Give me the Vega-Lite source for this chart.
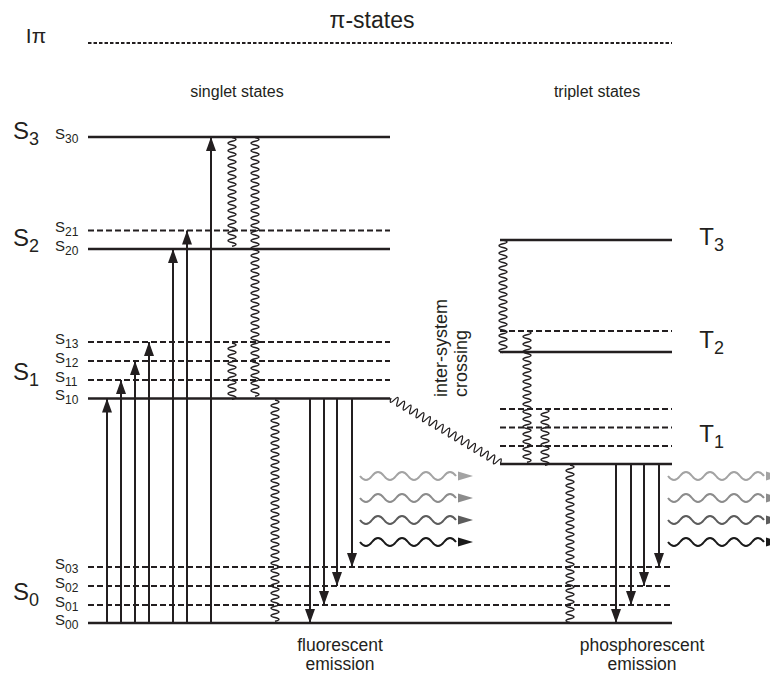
{
  "$schema": "https://vega.github.io/schema/vega-lite/v6.json",
  "width": 770,
  "height": 675,
  "autosize": {"type": "fit", "contains": "padding"},
  "padding": 0,
  "background": "white",
  "config": {"view": {"stroke": null}, "text": {"font": "Liberation Sans", "color": "#231f20"}},
  "resolve": {"scale": {"shape": "independent", "color": "independent"}},
  "datasets": {
    "levels": [
      {"level": "Ipi", "x": 88, "x2": 672, "E": 580, "style": "fine"},
      {"level": "S30", "x": 88, "x2": 390, "E": 486, "style": "solid"},
      {"level": "S21", "x": 88, "x2": 390, "E": 392.5, "style": "dashed"},
      {"level": "S20", "x": 88, "x2": 390, "E": 374, "style": "solid"},
      {"level": "S13", "x": 88, "x2": 390, "E": 281, "style": "dashed"},
      {"level": "S12", "x": 88, "x2": 390, "E": 262, "style": "dashed"},
      {"level": "S11", "x": 88, "x2": 390, "E": 243, "style": "dashed"},
      {"level": "S10", "x": 88, "x2": 390, "E": 224.5, "style": "solid"},
      {"level": "S03", "x": 88, "x2": 672, "E": 56, "style": "dashed"},
      {"level": "S02", "x": 88, "x2": 672, "E": 37, "style": "dashed"},
      {"level": "S01", "x": 88, "x2": 672, "E": 18, "style": "dashed"},
      {"level": "S00", "x": 88, "x2": 672, "E": 0, "style": "solid"},
      {"level": "T3", "x": 500, "x2": 672, "E": 383, "style": "solid"},
      {"level": "T21", "x": 500, "x2": 672, "E": 292, "style": "dashed"},
      {"level": "T2", "x": 500, "x2": 672, "E": 271, "style": "solid"},
      {"level": "T13", "x": 500, "x2": 672, "E": 214, "style": "dashed"},
      {"level": "T12", "x": 500, "x2": 672, "E": 195.5, "style": "dashed"},
      {"level": "T11", "x": 500, "x2": 672, "E": 177, "style": "dashed"},
      {"level": "T1", "x": 500, "x2": 672, "E": 159, "style": "solid"}
    ],
    "arrows": [
      {"x": 107, "E": 0, "E2": 224.5, "dir": "up"},
      {"x": 121, "E": 0, "E2": 243, "dir": "up"},
      {"x": 135, "E": 0, "E2": 262, "dir": "up"},
      {"x": 149, "E": 0, "E2": 281, "dir": "up"},
      {"x": 173, "E": 0, "E2": 374, "dir": "up"},
      {"x": 187, "E": 0, "E2": 392.5, "dir": "up"},
      {"x": 211, "E": 0, "E2": 486, "dir": "up"},
      {"x": 310, "E": 224.5, "E2": 0, "dir": "down"},
      {"x": 324, "E": 224.5, "E2": 18, "dir": "down"},
      {"x": 337, "E": 224.5, "E2": 37, "dir": "down"},
      {"x": 352, "E": 224.5, "E2": 56, "dir": "down"},
      {"x": 616, "E": 159, "E2": 0, "dir": "down"},
      {"x": 631, "E": 159, "E2": 18, "dir": "down"},
      {"x": 644, "E": 159, "E2": 37, "dir": "down"},
      {"x": 659, "E": 159, "E2": 56, "dir": "down"}
    ],
    "waves": [
      {"x": 232, "E": 485.5, "half": "29"},
      {"x": 255, "E": 485.5, "half": "69"},
      {"x": 232, "E": 280, "half": "15"},
      {"x": 275, "E": 223, "half": "59"},
      {"x": 503, "E": 383, "half": "30"},
      {"x": 527, "E": 292, "half": "35"},
      {"x": 545, "E": 214, "half": "15"},
      {"x": 570, "E": 158, "half": "42"}
    ],
    "emis": [
      {"x": 360, "x2": 473, "E": 147, "tone": "1"},
      {"x": 360, "x2": 473, "E": 125, "tone": "2"},
      {"x": 360, "x2": 473, "E": 103, "tone": "3"},
      {"x": 360, "x2": 473, "E": 81, "tone": "4"},
      {"x": 668, "x2": 781, "E": 147, "tone": "1"},
      {"x": 668, "x2": 781, "E": 125, "tone": "2"},
      {"x": 668, "x2": 781, "E": 103, "tone": "3"},
      {"x": 668, "x2": 781, "E": 81, "tone": "4"}
    ],
    "states": [
      {"x": 29, "E": 484, "main": "S", "sub": "3"},
      {"x": 29, "E": 377, "main": "S", "sub": "2"},
      {"x": 29, "E": 243, "main": "S", "sub": "1"},
      {"x": 29, "E": 23, "main": "S", "sub": "0"},
      {"x": 714, "E": 378, "main": "T", "sub": "3"},
      {"x": 714, "E": 275, "main": "T", "sub": "2"},
      {"x": 714, "E": 181, "main": "T", "sub": "1"}
    ],
    "sublabels": [
      {"x": 65, "E": 484.5, "main": "S", "sub": "30"},
      {"x": 65, "E": 391, "main": "S", "sub": "21"},
      {"x": 65, "E": 372.5, "main": "S", "sub": "20"},
      {"x": 65, "E": 279.5, "main": "S", "sub": "13"},
      {"x": 65, "E": 260.5, "main": "S", "sub": "12"},
      {"x": 65, "E": 241.5, "main": "S", "sub": "11"},
      {"x": 65, "E": 223, "main": "S", "sub": "10"},
      {"x": 65, "E": 54.5, "main": "S", "sub": "03"},
      {"x": 65, "E": 35.5, "main": "S", "sub": "02"},
      {"x": 65, "E": 16.5, "main": "S", "sub": "01"},
      {"x": 65, "E": -1.5, "main": "S", "sub": "00"}
    ],
    "texts": [
      {"kind": "title", "text": "π-states", "x": 372, "E": 595},
      {"kind": "ipi", "text": "Iπ", "x": 36, "E": 580},
      {"kind": "group", "text": "singlet states", "x": 237, "E": 526},
      {"kind": "group", "text": "triplet states", "x": 597, "E": 526},
      {"kind": "emission", "text": "fluorescent", "x": 340, "E": -28},
      {"kind": "emission", "text": "emission", "x": 340, "E": -47},
      {"kind": "emission", "text": "phosphorescent", "x": 642, "E": -28},
      {"kind": "emission", "text": "emission", "x": 642, "E": -47},
      {"kind": "isc", "text": "inter-system", "x": 447, "E": 226},
      {"kind": "isc", "text": "crossing", "x": 467, "E": 226}
    ]
  },
  "encoding": {
    "x": {"field": "x", "type": "quantitative", "scale": {"domain": [0, 770], "nice": false, "zero": false}, "axis": null},
    "y": {"field": "E", "type": "quantitative", "scale": {"domain": [-52, 623], "nice": false, "zero": false}, "axis": null}
  },
  "layer": [
    {
      "data": {"name": "levels"},
      "transform": [{"filter": "datum.style === 'solid'"}],
      "mark": {"type": "rule", "color": "#231f20", "strokeWidth": 2.3},
      "encoding": {"x2": {"field": "x2"}}
    },
    {
      "data": {"name": "levels"},
      "transform": [{"filter": "datum.style === 'dashed'"}],
      "mark": {"type": "rule", "color": "#231f20", "strokeWidth": 2, "strokeDash": [6, 3]},
      "encoding": {"x2": {"field": "x2"}}
    },
    {
      "data": {"name": "levels"},
      "transform": [{"filter": "datum.style === 'fine'"}],
      "mark": {"type": "rule", "color": "#231f20", "strokeWidth": 2, "strokeDash": [3.5, 2]},
      "encoding": {"x2": {"field": "x2"}}
    },
    {
      "data": {"name": "arrows"},
      "mark": {"type": "rule", "color": "#231f20", "strokeWidth": 2},
      "encoding": {"y2": {"field": "E2"}}
    },
    {
      "data": {"name": "arrows"},
      "mark": {"type": "point", "filled": true, "size": 4, "opacity": 1, "color": "#231f20", "strokeWidth": 0},
      "encoding": {
        "y": {"field": "E2", "type": "quantitative", "scale": {"domain": [-52, 623], "nice": false, "zero": false}, "axis": null},
        "shape": {"field": "dir", "type": "nominal", "scale": {"domain": ["up", "down"], "range": ["M0,0L-5,14L5,14Z", "M0,0L-5,-14L5,-14Z"]}, "legend": null}
      }
    },
    {
      "data": {"name": "waves"},
      "mark": {"type": "point", "filled": false, "size": 4, "opacity": 1, "color": "#231f20", "strokeWidth": 1.3},
      "encoding": {
        "shape": {"field": "half", "type": "nominal", "legend": null, "scale": {
          "domain": ["15", "29", "30", "35", "42", "59", "69"],
          "range": [
            "M0,0q8,1.875 0,3.75 t0,3.75t0,3.75t0,3.75t0,3.75t0,3.75t0,3.75t0,3.75t0,3.75t0,3.75t0,3.75 t0,3.75t0,3.75t0,3.75t0,3.75",
            "M0,0q8,1.875 0,3.75 t0,3.75t0,3.75t0,3.75t0,3.75t0,3.75t0,3.75t0,3.75t0,3.75t0,3.75t0,3.75 t0,3.75t0,3.75t0,3.75t0,3.75t0,3.75t0,3.75t0,3.75t0,3.75t0,3.75t0,3.75 t0,3.75t0,3.75t0,3.75t0,3.75t0,3.75t0,3.75t0,3.75t0,3.75",
            "M0,0q8,1.875 0,3.75 t0,3.75t0,3.75t0,3.75t0,3.75t0,3.75t0,3.75t0,3.75t0,3.75t0,3.75t0,3.75 t0,3.75t0,3.75t0,3.75t0,3.75t0,3.75t0,3.75t0,3.75t0,3.75t0,3.75t0,3.75 t0,3.75t0,3.75t0,3.75t0,3.75t0,3.75t0,3.75t0,3.75t0,3.75t0,3.75",
            "M0,0q8,1.875 0,3.75 t0,3.75t0,3.75t0,3.75t0,3.75t0,3.75t0,3.75t0,3.75t0,3.75t0,3.75t0,3.75 t0,3.75t0,3.75t0,3.75t0,3.75t0,3.75t0,3.75t0,3.75t0,3.75t0,3.75t0,3.75 t0,3.75t0,3.75t0,3.75t0,3.75t0,3.75t0,3.75t0,3.75t0,3.75t0,3.75t0,3.75 t0,3.75t0,3.75t0,3.75t0,3.75",
            "M0,0q8,1.875 0,3.75 t0,3.75t0,3.75t0,3.75t0,3.75t0,3.75t0,3.75t0,3.75t0,3.75t0,3.75t0,3.75 t0,3.75t0,3.75t0,3.75t0,3.75t0,3.75t0,3.75t0,3.75t0,3.75t0,3.75t0,3.75 t0,3.75t0,3.75t0,3.75t0,3.75t0,3.75t0,3.75t0,3.75t0,3.75t0,3.75t0,3.75 t0,3.75t0,3.75t0,3.75t0,3.75t0,3.75t0,3.75t0,3.75t0,3.75t0,3.75t0,3.75 t0,3.75",
            "M0,0q8,1.875 0,3.75 t0,3.75t0,3.75t0,3.75t0,3.75t0,3.75t0,3.75t0,3.75t0,3.75t0,3.75t0,3.75 t0,3.75t0,3.75t0,3.75t0,3.75t0,3.75t0,3.75t0,3.75t0,3.75t0,3.75t0,3.75 t0,3.75t0,3.75t0,3.75t0,3.75t0,3.75t0,3.75t0,3.75t0,3.75t0,3.75t0,3.75 t0,3.75t0,3.75t0,3.75t0,3.75t0,3.75t0,3.75t0,3.75t0,3.75t0,3.75t0,3.75 t0,3.75t0,3.75t0,3.75t0,3.75t0,3.75t0,3.75t0,3.75t0,3.75t0,3.75t0,3.75 t0,3.75t0,3.75t0,3.75t0,3.75t0,3.75t0,3.75t0,3.75t0,3.75",
            "M0,0q8,1.875 0,3.75 t0,3.75t0,3.75t0,3.75t0,3.75t0,3.75t0,3.75t0,3.75t0,3.75t0,3.75t0,3.75 t0,3.75t0,3.75t0,3.75t0,3.75t0,3.75t0,3.75t0,3.75t0,3.75t0,3.75t0,3.75 t0,3.75t0,3.75t0,3.75t0,3.75t0,3.75t0,3.75t0,3.75t0,3.75t0,3.75t0,3.75 t0,3.75t0,3.75t0,3.75t0,3.75t0,3.75t0,3.75t0,3.75t0,3.75t0,3.75t0,3.75 t0,3.75t0,3.75t0,3.75t0,3.75t0,3.75t0,3.75t0,3.75t0,3.75t0,3.75t0,3.75 t0,3.75t0,3.75t0,3.75t0,3.75t0,3.75t0,3.75t0,3.75t0,3.75t0,3.75t0,3.75 t0,3.75t0,3.75t0,3.75t0,3.75t0,3.75t0,3.75t0,3.75t0,3.75"
          ]
        }}
      }
    },
    {
      "data": {"values": [{"x": 391, "E": 225}]},
      "mark": {"type": "point", "filled": false, "size": 4, "opacity": 1, "color": "#231f20", "strokeWidth": 1.3, "angle": 30.8,
        "shape": "M0,0q1.875,8 3.75,0 t3.75,0t3.75,0t3.75,0t3.75,0t3.75,0t3.75,0t3.75,0t3.75,0t3.75,0t3.75,0 t3.75,0t3.75,0t3.75,0t3.75,0t3.75,0t3.75,0t3.75,0t3.75,0t3.75,0t3.75,0 t3.75,0t3.75,0t3.75,0t3.75,0t3.75,0t3.75,0t3.75,0t3.75,0t3.75,0t3.75,0 t3.75,0t3.75,0t3.75,0"}
    },
    {
      "data": {"name": "emis"},
      "mark": {"type": "point", "filled": false, "size": 4, "opacity": 1, "strokeWidth": 2,
        "shape": "M0,0q6,8 12,0t12,0t12,0t12,0t12,0t12,0t12,0t12,0"},
      "encoding": {
        "color": {"field": "tone", "type": "nominal", "legend": null, "scale": {"domain": ["1", "2", "3", "4"], "range": ["#a3a3a3", "#8c8c8c", "#5c5c5c", "#1a1a1a"]}}
      }
    },
    {
      "data": {"name": "emis"},
      "mark": {"type": "point", "filled": true, "size": 4, "opacity": 1, "strokeWidth": 0, "clip": true,
        "shape": "M0,0L-15,-4.5L-15,4.5Z"},
      "encoding": {
        "x": {"field": "x2", "type": "quantitative", "scale": {"domain": [0, 770], "nice": false, "zero": false}, "axis": null},
        "color": {"field": "tone", "type": "nominal", "legend": null, "scale": {"domain": ["1", "2", "3", "4"], "range": ["#a3a3a3", "#8c8c8c", "#5c5c5c", "#1a1a1a"]}}
      }
    },
    {
      "data": {"name": "states"},
      "mark": {"type": "text", "align": "right", "baseline": "alphabetic", "fontSize": 24},
      "encoding": {"text": {"field": "main", "type": "nominal"}}
    },
    {
      "data": {"name": "states"},
      "mark": {"type": "text", "align": "left", "baseline": "alphabetic", "fontSize": 18, "dy": 6},
      "encoding": {"text": {"field": "sub", "type": "nominal"}}
    },
    {
      "data": {"name": "sublabels"},
      "mark": {"type": "text", "align": "right", "baseline": "alphabetic", "fontSize": 15},
      "encoding": {"text": {"field": "main", "type": "nominal"}}
    },
    {
      "data": {"name": "sublabels"},
      "mark": {"type": "text", "align": "left", "baseline": "alphabetic", "fontSize": 12, "dy": 4},
      "encoding": {"text": {"field": "sub", "type": "nominal"}}
    },
    {
      "data": {"name": "texts"},
      "transform": [{"filter": "datum.kind === 'title'"}],
      "mark": {"type": "text", "align": "center", "baseline": "alphabetic", "fontSize": 23},
      "encoding": {"text": {"field": "text", "type": "nominal"}}
    },
    {
      "data": {"name": "texts"},
      "transform": [{"filter": "datum.kind === 'ipi'"}],
      "mark": {"type": "text", "align": "center", "baseline": "alphabetic", "fontSize": 21},
      "encoding": {"text": {"field": "text", "type": "nominal"}}
    },
    {
      "data": {"name": "texts"},
      "transform": [{"filter": "datum.kind === 'group'"}],
      "mark": {"type": "text", "align": "center", "baseline": "alphabetic", "fontSize": 16},
      "encoding": {"text": {"field": "text", "type": "nominal"}}
    },
    {
      "data": {"name": "texts"},
      "transform": [{"filter": "datum.kind === 'emission'"}],
      "mark": {"type": "text", "align": "center", "baseline": "alphabetic", "fontSize": 17.5},
      "encoding": {"text": {"field": "text", "type": "nominal"}}
    },
    {
      "data": {"name": "texts"},
      "transform": [{"filter": "datum.kind === 'isc'"}],
      "mark": {"type": "text", "align": "left", "baseline": "alphabetic", "fontSize": 18, "angle": 270},
      "encoding": {"text": {"field": "text", "type": "nominal"}}
    }
  ]
}
